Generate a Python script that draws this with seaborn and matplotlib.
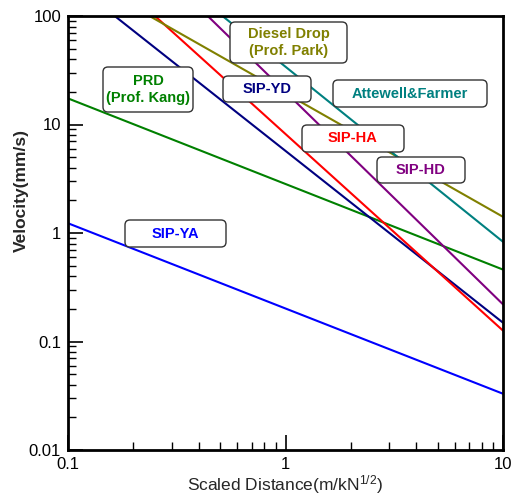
import matplotlib
matplotlib.use("Agg")
import matplotlib.pyplot as plt
import seaborn as sns
import pandas as pd
import numpy as np
from matplotlib.ticker import LogLocator, NullFormatter, FixedLocator, FixedFormatter
from matplotlib.patches import FancyBboxPatch
from matplotlib.transforms import IdentityTransform

sns.set_style("white")
plt.rcParams['font.family'] = ['Liberation Sans', 'DejaVu Sans']
plt.rcParams['mathtext.fontset'] = 'custom'
plt.rcParams['mathtext.rm'] = 'Liberation Sans'
plt.rcParams['mathtext.it'] = 'Liberation Sans'

# Each line: endpoints (scaled distance, velocity)
series = ["SIP-YA", "PRD", "SIP-YD", "SIP-HA", "SIP-HD", "Diesel Drop", "Attewell&Farmer"]
x_sip_ya = [0.1, 10.0];   v_sip_ya = [1.23, 0.033]
x_prd = [0.1, 10.0];      v_prd = [17.4, 0.46]
x_sip_yd = [0.164, 10.0]; v_sip_yd = [100.0, 0.149]
x_sip_ha = [0.251, 10.0]; v_sip_ha = [100.0, 0.126]
x_sip_hd = [0.439, 10.0]; v_sip_hd = [100.0, 0.22]
x_diesel = [0.237, 10.0]; v_diesel = [100.0, 1.41]
x_attew = [0.513, 10.0];  v_attew = [100.0, 0.83]

colors = {"SIP-YA": "#0000FF", "PRD": "#008000", "SIP-YD": "#000080",
          "SIP-HA": "#FF0000", "SIP-HD": "#800080", "Diesel Drop": "#808000",
          "Attewell&Farmer": "#008080"}

xs = [x_sip_ya, x_prd, x_sip_yd, x_sip_ha, x_sip_hd, x_diesel, x_attew]
vs = [v_sip_ya, v_prd, v_sip_yd, v_sip_ha, v_sip_hd, v_diesel, v_attew]
rows = []
for name, xx, vv in zip(series, xs, vs):
    for a, b in zip(xx, vv):
        rows.append({"series": name, "sd": a, "v": b})
df = pd.DataFrame(rows)

W, H = 521, 496
fig = plt.figure(figsize=(W/100, H/100), dpi=100)
ax = fig.add_axes([68/W, 46/H, 435/W, 434/H])
sns.lineplot(data=df, x="sd", y="v", hue="series", palette=colors, legend=False,
             ax=ax, linewidth=1.5, estimator=None, sort=False)
ax.set_xscale("log")
ax.set_yscale("log")
ax.set_xlim(0.1, 10)
ax.set_ylim(0.01, 100)

ax.xaxis.set_major_locator(FixedLocator([0.1, 1, 10]))
ax.xaxis.set_major_formatter(FixedFormatter(["0.1", "1", "10"]))
ax.yaxis.set_major_locator(FixedLocator([0.01, 0.1, 1, 10, 100]))
ax.yaxis.set_major_formatter(FixedFormatter(["0.01", "0.1", "1", "10", "100"]))
ax.xaxis.set_minor_locator(LogLocator(base=10, subs=np.arange(2, 10), numticks=20))
ax.yaxis.set_minor_locator(LogLocator(base=10, subs=np.arange(2, 10), numticks=20))
ax.xaxis.set_minor_formatter(NullFormatter())
ax.yaxis.set_minor_formatter(NullFormatter())
ax.tick_params(which="both", bottom=True, left=True, top=False, right=False)
ax.tick_params(which="major", direction="in", length=11, width=1.2, labelsize=12,
               pad=5, colors="black")
ax.tick_params(which="minor", direction="in", length=5.5, width=1.0, colors="black")
for s in ax.spines.values():
    s.set_linewidth(2)
    s.set_color("black")

ax.set_xlabel(r"Scaled Distance(m/kN$^{1/2}$)", fontsize=12.5, labelpad=1)
ax.set_ylabel("Velocity(mm/s)", fontsize=12.5, fontweight="bold")
ax.yaxis.set_label_coords((29 - 68) / 435, (450 - 190) / 434)

# label boxes: (text, key, left, top, right, bottom) in pixel coords of the picture
labels = [
    ("Diesel Drop\n(Prof. Park)", "Diesel Drop", 230, 22, 347, 63),
    ("PRD\n(Prof. Kang)", "PRD", 103, 67, 193, 112),
    ("SIP-YD", "SIP-YD", 223, 76, 311, 102),
    ("Attewell&Farmer", "Attewell&Farmer", 333, 80, 487, 107),
    ("SIP-HA", "SIP-HA", 302, 125, 404, 152),
    ("SIP-HD", "SIP-HD", 377, 157, 465, 183),
    ("SIP-YA", "SIP-YA", 125, 220, 226, 247),
]
for text, key, x0, y0, x1, y1 in labels:
    box = FancyBboxPatch((x0, H - y1), x1 - x0, y1 - y0,
                         boxstyle="round,pad=0,rounding_size=5",
                         transform=IdentityTransform(), fc="white", ec="#333333",
                         lw=1.0, zorder=5, clip_on=False)
    fig.add_artist(box)
    fig.text((x0 + x1) / 2 / W, 1 - (y0 + y1) / 2 / H, text, ha="center", va="center",
             fontsize=10.5, fontweight="bold", color=colors[key], linespacing=1.2,
             zorder=6)

fig.savefig("out.png", dpi=100)
